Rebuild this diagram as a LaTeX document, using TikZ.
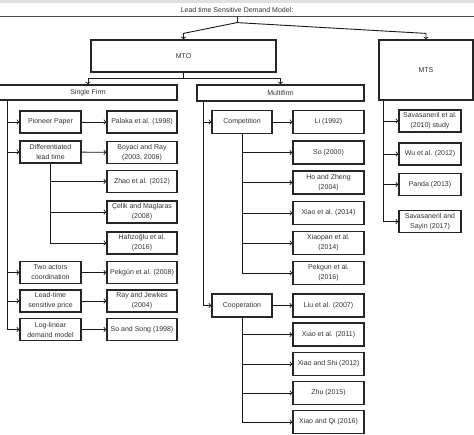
\documentclass[tikz,border=0pt]{standalone}
\usepackage{fontspec}
\setmainfont{Liberation Sans}

\tikzset{
  box/.style={draw=black!85, line width=1.2pt, fill=white, align=center, inner sep=1pt,
    text=black!80, font=\fontsize{7}{10}\selectfont},
  lbox/.style={box, minimum width=61pt, minimum height=22pt},
  rbox/.style={box, minimum width=70pt, minimum height=22pt},
  cbox/.style={box, minimum width=60pt, minimum height=23pt},
  mbox/.style={box, minimum width=71pt, minimum height=23pt},
  sbox/.style={box, minimum width=62pt, minimum height=22pt},
  link/.style={->, line width=0.9pt, black!90},
}

\begin{document}
\begin{tikzpicture}[x=1pt, y=-1pt]

\clip (0,0) rectangle (474,434);
\fill[black!12] (0,0) rectangle (474,2.5);

\node[box, draw=none, minimum width=480pt, minimum height=13pt] (top) at (237,9.5) {Lead time Sensitive Demand Model:};
\draw[line width=1.2pt, black!70] (top.south west) -- (top.south east);

\node[box, minimum width=185pt, minimum height=32pt] (mto) at (183.5,56) {MTO};
\node[box, minimum width=94pt, minimum height=60pt] (mts) at (426,70) {MTS};
\node[box, minimum width=178pt, minimum height=15pt] (sf) at (88,92.5) {Single Firm};
\node[box, minimum width=167pt, minimum height=16pt] (mf) at (280.5,93) {Multifirm};

\draw[link, -] (top.south) -- ++(0,6) coordinate (split);
\draw[link] (split) -- ([yshift=6pt]mto.north) -- (mto.north);
\draw[link] (split) -- ([yshift=6pt]mts.north) -- (mts.north);
\draw[link, -] (mto.south) -- ++(0,6) coordinate (mtosplit);
\draw[link] (mtosplit) -| (sf.north);
\draw[link] (mtosplit) -| (mf.north);

\node[lbox] (pioneer) at (50.5,122) {Pioneer Paper};
\node[lbox] (diff) at (50.5,152) {Differentiated\\lead time};
\node[lbox] (twoact) at (50.5,272.5) {Two actors\\coordination};
\node[lbox] (ltprice) at (50.5,301) {Lead-time\\sensitive price};
\node[lbox] (loglin) at (50.5,329.5) {Log-linear\\demand model};

\node[rbox] (palaka) at (142,122) {Palaka et al. (1998)};
\node[rbox] (boyaci) at (142,152.5) {Boyaci and Ray\\(2003, 2006)};
\node[rbox] (zhao) at (142,181.5) {Zhao et al. (2012)};
\node[rbox] (celik) at (142,212) {Çelik and Maglaras\\(2008)};
\node[rbox] (hafiz) at (142,243) {Hafızoğlu et al.\\(2016)};
\node[rbox] (pekgun08) at (142,272.5) {Pekgün et al. (2008)};
\node[rbox] (rayj) at (142,301) {Ray and Jewkes\\(2004)};
\node[rbox] (sosong) at (142,329.5) {So and Song (1998)};

\coordinate (sftrunk) at ([xshift=9pt]sf.south west);
\foreach \n in {pioneer, diff, twoact, ltprice, loglin}
  \draw[link] (sftrunk) |- (\n);
\draw[link] (pioneer) -- (palaka);
\draw[link] (diff) -- (boyaci);
\foreach \n in {zhao, celik, hafiz}
  \draw[link] (diff.south) |- (\n);
\draw[link] (twoact) -- (pekgun08);
\draw[link] (ltprice) -- (rayj);
\draw[link] (loglin) -- (sosong);

\node[cbox] (comp) at (242,122) {Competition};
\node[cbox] (coop) at (242,305.5) {Cooperation};

\node[mbox] (li) at (328.5,122) {Li (1992)};
\node[mbox] (so2000) at (328.5,152.5) {So (2000)};
\node[mbox] (hozheng) at (328.5,182.5) {Ho and Zheng\\(2004)};
\node[mbox] (xiao14) at (328.5,213) {Xiao et al. (2014)};
\node[mbox] (xiaopan) at (328.5,243) {Xiaopan et al.\\(2014)};
\node[mbox] (pekgun16) at (328.5,273) {Pekgun et al.\\(2016)};
\node[mbox] (liu) at (328.5,305.5) {Liu et al. (2007)};
\node[mbox] (xiao11) at (328.5,334.5) {Xiao et al. (2011)};
\node[mbox] (xiaoshi) at (328.5,364) {Xiao and Shi (2012)};
\node[mbox] (zhu) at (328.5,393) {Zhu (2015)};
\node[mbox] (xiaoqi) at (328.5,422) {Xiao and Qi (2016)};

\coordinate (mftrunk) at ([xshift=7pt]mf.south west);
\draw[link] (mftrunk) |- (comp);
\draw[link] (mftrunk) |- (coop);
\draw[link] (comp) -- (li);
\foreach \n in {so2000, hozheng, xiao14, xiaopan, pekgun16}
  \draw[link] (comp.south) |- (\n);
\draw[link] (coop) -- (liu);
\foreach \n in {xiao11, xiaoshi, zhu, xiaoqi}
  \draw[link] (coop.south) |- (\n);

\node[sbox] (sav10) at (430,121) {Savasaneril et al.\\(2010) study};
\node[sbox] (wu) at (430,154) {Wu et al. (2012)};
\node[sbox] (panda) at (430,184.5) {Panda (2013)};
\node[sbox] (savsay) at (430,221.5) {Savasaneril and\\Sayin (2017)};

\coordinate (mtstrunk) at ([xshift=5pt]mts.south west);
\foreach \n in {sav10, wu, panda, savsay}
  \draw[link] (mtstrunk) |- (\n);

\end{tikzpicture}
\end{document}
